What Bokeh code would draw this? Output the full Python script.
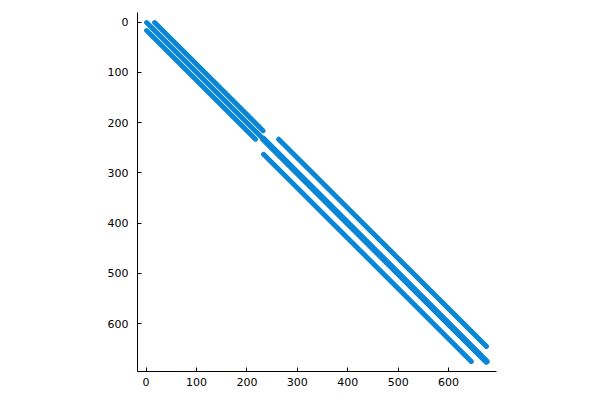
from bokeh.plotting import figure
from bokeh.models import Range1d, FixedTicker
from bokeh.embed import file_html
from bokeh.resources import INLINE

# Non-zero diagonal bands of the sparse matrix (row = y, column = x)
band_first_row = [1, 1, 17, 233, 233, 263]
band_last_row = [232, 216, 233, 675, 645, 675]
band_offset = [0, 16, -16, 0, 30, -30]          # column - row
band_width = [5, 5, 5, 6.5, 5, 5]

tick_values = [0, 100, 200, 300, 400, 500, 600]

x0 = [r + o for r, o in zip(band_first_row, band_offset)]
y0 = list(band_first_row)
x1 = [r + o for r, o in zip(band_last_row, band_offset)]
y1 = list(band_last_row)

p = figure(
    frame_width=359, frame_height=359,
    min_border_left=137, min_border_right=88,
    min_border_top=12, min_border_bottom=21,
    x_range=Range1d(-17, 695), y_range=Range1d(695, -19),
    output_backend="svg", toolbar_location=None,
)
p.outline_line_color = None
p.xgrid.visible = False
p.ygrid.visible = False

p.segment(x0=x0, y0=y0, x1=x1, y1=y1, line_color="#0a86d6",
          line_width=band_width, line_cap="round")

for ax in (p.xaxis[0], p.yaxis[0]):
    ax.ticker = FixedTicker(ticks=tick_values)
    ax.minor_tick_line_color = None
    ax.major_tick_in = 4
    ax.major_tick_out = 0
    ax.axis_line_color = "black"
    ax.major_tick_line_color = "black"
    ax.major_label_text_font = "DejaVu Sans"
    ax.major_label_text_font_size = "11px"
    ax.major_label_text_color = "black"
p.yaxis.major_label_standoff = 9
p.xaxis.major_label_standoff = 6

open("out.html", "w").write(file_html(p, INLINE))
